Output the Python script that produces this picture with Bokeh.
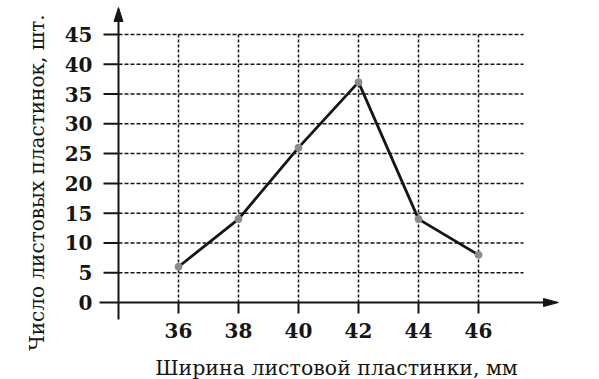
import math
from bokeh.plotting import figure
from bokeh.models import Range1d
from bokeh.core.properties import value
from bokeh.embed import file_html
from bokeh.resources import INLINE

# ---- data ----
widths = [36, 38, 40, 42, 44, 46]
counts = [6, 14, 26, 37, 14, 8]
x_ticks = [36, 38, 40, 42, 44, 46]
x_tick_labels = ["36", "38", "40", "42", "44", "46"]
y_ticks = [0, 5, 10, 15, 20, 25, 30, 35, 40, 45]
y_tick_labels = ["0", "5", "10", "15", "20", "25", "30", "35", "40", "45"]
x_title = "Ширина листовой пластинки, мм"
y_title = "Число листовых пластинок, шт."

# ---- layout (pixel mapping) ----
W, H = 599, 379
X_ORIGIN = 34          # x value where the vertical axis stands
X_ORIGIN_PX = 118
X_PX_PER_UNIT = 30.0
Y_ZERO_PX = 302
Y_PX_PER_UNIT = 268.0 / 45.0

x_start = X_ORIGIN - X_ORIGIN_PX / X_PX_PER_UNIT
x_end = x_start + W / X_PX_PER_UNIT
y_end = Y_ZERO_PX / Y_PX_PER_UNIT
y_start = -(H - Y_ZERO_PX) / Y_PX_PER_UNIT


def dx(px):
    return x_start + px / X_PX_PER_UNIT


def dy(py):
    return (Y_ZERO_PX - py) / Y_PX_PER_UNIT


def ux(px):  # pixel length -> x units
    return px / X_PX_PER_UNIT


def uy(px):  # pixel length -> y units
    return px / Y_PX_PER_UNIT


p = figure(width=W, height=H, output_backend="svg", toolbar_location=None,
           x_range=Range1d(x_start, x_end), y_range=Range1d(y_start, y_end),
           x_axis_type=None, y_axis_type=None, min_border=0)
p.grid.visible = False
p.outline_line_color = None
p.background_fill_color = "white"
p.border_fill_color = "white"

INK = "#151515"
FONT = value("DejaVu Serif")

grid_right = dx(523)
grid_left_tick = dx(103)
ymax = y_ticks[-1]

# horizontal dashed grid lines
hy = [t for t in y_ticks if t > 0]
p.segment(x0=[X_ORIGIN] * len(hy), y0=hy, x1=[grid_right] * len(hy), y1=hy,
          line_color=INK, line_width=1.5, line_dash="4 2")
# tick marks left of vertical axis
p.segment(x0=[grid_left_tick] * len(hy), y0=hy, x1=[X_ORIGIN] * len(hy), y1=hy,
          line_color=INK, line_width=2)

# vertical dashed grid lines
p.segment(x0=x_ticks, y0=[0] * len(x_ticks), x1=x_ticks, y1=[ymax] * len(x_ticks),
          line_color=INK, line_width=1.5, line_dash="3 2")
# tick marks below horizontal axis
p.segment(x0=x_ticks, y0=[0] * len(x_ticks), x1=x_ticks, y1=[dy(313)] * len(x_ticks),
          line_color=INK, line_width=2)

# vertical axis with arrow
p.segment(x0=[X_ORIGIN], y0=[dy(319)], x1=[X_ORIGIN], y1=[dy(18)],
          line_color=INK, line_width=2)
p.patch(x=[X_ORIGIN, X_ORIGIN - ux(4.5), X_ORIGIN + ux(4.5)],
        y=[dy(7), dy(21), dy(21)], color=INK)

# horizontal axis with arrow
p.segment(x0=[dx(99)], y0=[0], x1=[dx(546)], y1=[0],
          line_color=INK, line_width=2)
p.patch(x=[dx(558), dx(543), dx(543)],
        y=[0, uy(4), -uy(4)], color=INK)

# data line and points
p.line(widths, counts, line_color=INK, line_width=2.8)
p.scatter(widths, counts, size=7, fill_color="#8c8c8c", line_color="#8c8c8c")

# tick labels
p.text(x=[dx(92)] * len(y_ticks), y=y_ticks, text=y_tick_labels,
       text_align="right", text_baseline="middle", text_font=FONT,
       text_font_style="bold", text_font_size="20px", text_color=INK)
p.text(x=x_ticks, y=[dy(330)] * len(x_ticks), text=x_tick_labels,
       text_align="center", text_baseline="middle", text_font=FONT,
       text_font_style="bold", text_font_size="20px", text_color=INK)

# axis titles
p.text(x=[dx(336)], y=[dy(367)], text=[x_title], text_align="center",
       text_baseline="alphabetic", text_font=FONT, text_font_size="20.5px",
       text_color=INK)
p.text(x=[dx(36)], y=[dy(182)], text=[y_title], angle=math.pi / 2,
       text_align="center", text_baseline="middle", text_font=FONT,
       text_font_size="20px", text_color=INK)

open("out.html", "w").write(file_html(p, INLINE))
